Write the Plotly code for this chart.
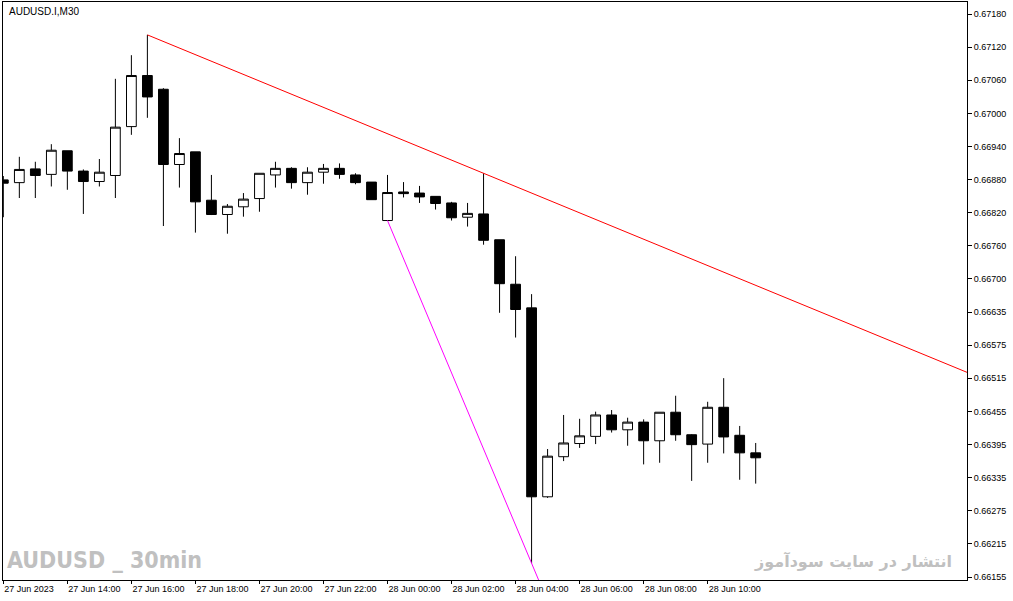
import pandas as pd
import plotly.graph_objects as go

# AUDUSD M30 bars, 27 Jun 12:00 -> 28 Jun 11:30
times = pd.date_range("2023-06-27 12:00", periods=48, freq="30min")

opens = [0.66878, 0.66873, 0.66898, 0.66888, 0.66931, 0.66894, 0.66875, 0.66886,
         0.66975, 0.67068, 0.67043, 0.66906, 0.66929, 0.66841, 0.66815, 0.66829,
         0.66844, 0.66887, 0.66899, 0.66873, 0.66892, 0.66899, 0.66887, 0.66874,
         0.66804, 0.66856, 0.66854, 0.66848, 0.66836, 0.66810, 0.66816, 0.66769,
         0.66688, 0.66645, 0.66301, 0.66374, 0.66398, 0.66411, 0.66450, 0.66423,
         0.66437, 0.66403, 0.66455, 0.66414, 0.66397, 0.66464, 0.66413, 0.66381]
highs = [0.66885, 0.66920, 0.66911, 0.66943, 0.66931, 0.66897, 0.66916, 0.67062,
         0.67105, 0.67142, 0.67045, 0.66954, 0.66929, 0.66887, 0.66834, 0.66854,
         0.66890, 0.66911, 0.66901, 0.66901, 0.66907, 0.66908, 0.66890, 0.66874,
         0.66887, 0.66874, 0.66867, 0.66848, 0.66838, 0.66836, 0.66890, 0.66769,
         0.66739, 0.66670, 0.66388, 0.66450, 0.66443, 0.66456, 0.66459, 0.66445,
         0.66442, 0.66455, 0.66485, 0.66415, 0.66474, 0.66517, 0.66430, 0.66399]
lows = [0.66810, 0.66845, 0.66845, 0.66866, 0.66860, 0.66816, 0.66866, 0.66845,
        0.66960, 0.66991, 0.66794, 0.66864, 0.66782, 0.66814, 0.66780, 0.66811,
        0.66820, 0.66864, 0.66862, 0.66851, 0.66871, 0.66880, 0.66870, 0.66842,
        0.66804, 0.66846, 0.66836, 0.66824, 0.66804, 0.66793, 0.66760, 0.66636,
        0.66591, 0.66180, 0.66299, 0.66366, 0.66390, 0.66397, 0.66418, 0.66394,
        0.66360, 0.66363, 0.66403, 0.66330, 0.66363, 0.66380, 0.66332, 0.66325]
closes = [0.66872, 0.66897, 0.66886, 0.66932, 0.66894, 0.66875, 0.66892, 0.66974,
          0.67068, 0.67029, 0.66906, 0.66926, 0.66838, 0.66815, 0.66830, 0.66843,
          0.66890, 0.66899, 0.66873, 0.66892, 0.66899, 0.66888, 0.66873, 0.66842,
          0.66855, 0.66853, 0.66847, 0.66835, 0.66809, 0.66817, 0.66768, 0.66689,
          0.66642, 0.66301, 0.66375, 0.66399, 0.66412, 0.66450, 0.66423, 0.66437,
          0.66403, 0.66455, 0.66414, 0.66396, 0.66464, 0.66410, 0.66381, 0.66372]

# price scale labels as printed by the terminal
price_labels = ["0.67180", "0.67120", "0.67060", "0.67000", "0.66940", "0.66880",
                "0.66820", "0.66760", "0.66700", "0.66635", "0.66575", "0.66515",
                "0.66455", "0.66395", "0.66335", "0.66275", "0.66215", "0.66155"]
time_ticks = ["2023-06-27 12:00", "2023-06-27 14:00", "2023-06-27 16:00", "2023-06-27 18:00",
              "2023-06-27 20:00", "2023-06-27 22:00", "2023-06-28 00:00", "2023-06-28 02:00",
              "2023-06-28 04:00", "2023-06-28 06:00", "2023-06-28 08:00", "2023-06-28 10:00"]
time_labels = ["27 Jun 2023", "27 Jun 14:00", "27 Jun 16:00", "27 Jun 18:00",
               "27 Jun 20:00", "27 Jun 22:00", "28 Jun 00:00", "28 Jun 02:00",
               "28 Jun 04:00", "28 Jun 06:00", "28 Jun 08:00", "28 Jun 10:00"]

# trend lines: resistance through highs of bars 9 and 30, support through lows of 24 and 33
res_a, res_b = 9, 30
sup_a, sup_b = 24, 33

bar = pd.Timedelta("30min")
x_left = times[0] - 0.02 * bar
x_right = times[0] + 60.2 * bar

top = float(price_labels[0])
bot = float(price_labels[-1])
step = (top - bot) / (len(price_labels) - 1)
tickvals = [top - i * step for i in range(len(price_labels))]
y_hi = top + step * 12 / 33.1
y_lo = bot - step * 3 / 33.1


def extend(a, b, vals, k_end):
    slope = (vals[b] - vals[a]) / (b - a)
    return [times[0] + a * bar, times[0] + k_end * bar], [vals[a], vals[a] + slope * (k_end - a)]


fig = go.Figure()
fig.add_trace(go.Candlestick(
    x=times, open=opens, high=highs, low=lows, close=closes,
    increasing=dict(line=dict(color="black", width=1), fillcolor="white"),
    decreasing=dict(line=dict(color="black", width=1), fillcolor="black"),
    whiskerwidth=0, hoverinfo="skip", showlegend=False))

rx, ry = extend(res_a, res_b, highs, 60.2)
fig.add_trace(go.Scatter(x=rx, y=ry, mode="lines", line=dict(color="#ff0000", width=1),
                         hoverinfo="skip", showlegend=False))
sx, sy = extend(sup_a, sup_b, lows, 36)
fig.add_trace(go.Scatter(x=sx, y=sy, mode="lines", line=dict(color="#ff00ff", width=1),
                         hoverinfo="skip", showlegend=False))

fig.update_layout(
    width=1013, height=601,
    margin=dict(l=3, r=46, t=2, b=21, autoexpand=False),
    paper_bgcolor="white", plot_bgcolor="white",
    boxgap=0.39, boxgroupgap=0,
    font=dict(family="Liberation Sans, Arial", size=9, color="black"),
    xaxis=dict(range=[x_left, x_right], rangeslider=dict(visible=False), automargin=False,
               tickvals=pd.to_datetime(time_ticks), ticktext=time_labels,
               ticks="outside", ticklen=3, tickcolor="black", showgrid=False,
               ticklabelposition="outside right",
               showline=True, linecolor="black", linewidth=1, mirror=True, zeroline=False),
    yaxis=dict(range=[y_lo, y_hi], side="right", tickvals=tickvals, ticktext=price_labels,
               automargin=False,
               ticks="outside", ticklen=4, tickcolor="black", showgrid=False,
               showline=True, linecolor="black", linewidth=1, mirror=True, zeroline=False),
)

fig.add_annotation(text="AUDUSD.I,M30", xref="paper", yref="paper", x=0.004, y=0.997,
                   xanchor="left", yanchor="top", showarrow=False,
                   font=dict(family="Liberation Sans, Arial", size=10, color="black"))
fig.add_annotation(text="<b>AUDUSD _ 30min</b>", xref="paper", yref="paper", x=0.002, y=0.008,
                   xanchor="left", yanchor="bottom", showarrow=False,
                   font=dict(family="Liberation Sans Narrow, DejaVu Sans Condensed", size=23,
                             color="#c0c0c0"))
fig.add_annotation(text="<b>انتشار در سایت سودآموز</b>", xref="paper", yref="paper",
                   x=0.986, y=0.012, xanchor="right", yanchor="bottom", showarrow=False,
                   font=dict(family="DejaVu Sans", size=16, color="#c0c0c0"))

# drop the browser's default page margin so the figure sits at the window corner
fig.write_html("out.html", config={"displayModeBar": False},
               post_script="document.body.style.margin = '0';")
